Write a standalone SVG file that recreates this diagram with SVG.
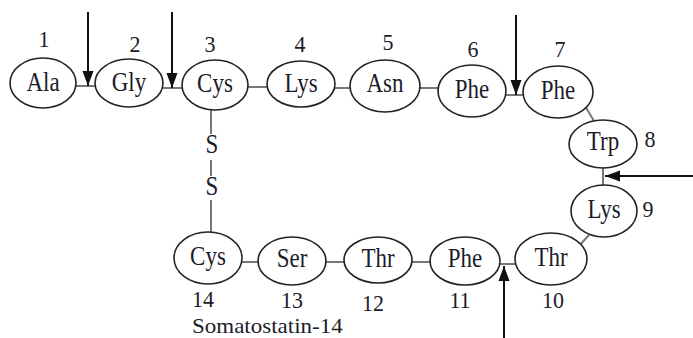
<svg xmlns="http://www.w3.org/2000/svg" width="693" height="338" viewBox="0 0 693 338">
<style>
.n ellipse{fill:#fff;stroke:#222;stroke-width:1.6}
text{font-family:'Liberation Serif','Times New Roman','DejaVu Serif',serif;font-size:23px;fill:#1c1c2a}
.m{text-anchor:middle}
.d{font-size:22px}
.t{font-size:21.5px}
.c line{stroke:#777;stroke-width:2}
.a line{stroke:#111;stroke-width:2}
</style>
<defs>
<marker id="ah" markerWidth="15" markerHeight="15" refX="15" refY="5.5" orient="auto" markerUnits="userSpaceOnUse" viewBox="0 0 15 11">
<path d="M0,0 L15,5.5 L0,11 Z" fill="#111"/>
</marker>
</defs>
<g class="c">
<line x1="76" y1="86" x2="96" y2="86"/>
<line x1="162" y1="88" x2="183" y2="88"/>
<line x1="247" y1="87" x2="268" y2="87"/>
<line x1="334" y1="88" x2="351" y2="88"/>
<line x1="419" y1="88" x2="438" y2="88"/>
<line x1="505" y1="95" x2="525" y2="95"/>
<line x1="585" y1="106" x2="594" y2="121"/>
<line x1="603" y1="167" x2="603" y2="186"/>
<line x1="589" y1="235" x2="578" y2="247"/>
<line x1="498" y1="264" x2="516" y2="264"/>
<line x1="411" y1="262" x2="431" y2="262"/>
<line x1="325" y1="262" x2="346" y2="262"/>
<line x1="241" y1="262" x2="259" y2="262"/>
<line x1="211" y1="110" x2="211" y2="134"/>
<line x1="211" y1="160" x2="211" y2="176"/>
<line x1="211" y1="200" x2="211" y2="233"/>
</g>
<g id="node1" class="n"><ellipse cx="43" cy="83" rx="33" ry="25"/><text class="m" transform="translate(43,91) scale(1,1.18)">Ala</text></g>
<g id="node2" class="n"><ellipse cx="129" cy="83" rx="34" ry="24"/><text class="m" transform="translate(129,91) scale(1,1.18)">Gly</text></g>
<g id="node3" class="n"><ellipse cx="215" cy="85" rx="33" ry="25"/><text class="m" transform="translate(215,92) scale(1,1.18)">Cys</text></g>
<g id="node4" class="n"><ellipse cx="301" cy="84" rx="34" ry="23"/><text class="m" transform="translate(301,92) scale(1,1.18)">Lys</text></g>
<g id="node5" class="n"><ellipse cx="385" cy="86" rx="35" ry="26"/><text class="m" transform="translate(385,92) scale(1,1.18)">Asn</text></g>
<g id="node6" class="n"><ellipse cx="472" cy="91" rx="34" ry="26"/><text class="m" transform="translate(472,98) scale(1,1.18)">Phe</text></g>
<g id="node7" class="n"><ellipse cx="558" cy="92" rx="35" ry="26"/><text class="m" transform="translate(558,99) scale(1,1.18)">Phe</text></g>
<g id="node8" class="n"><ellipse cx="603" cy="144" rx="34" ry="24"/><text class="m" transform="translate(603,150) scale(1,1.18)">Trp</text></g>
<g id="node9" class="n"><ellipse cx="604" cy="211" rx="33" ry="26"/><text class="m" transform="translate(604,218) scale(1,1.18)">Lys</text></g>
<g id="node10" class="n"><ellipse cx="551" cy="259" rx="36" ry="26"/><text class="m" transform="translate(551,266) scale(1,1.18)">Thr</text></g>
<g id="node11" class="n"><ellipse cx="465" cy="261" rx="35" ry="24"/><text class="m" transform="translate(465,267) scale(1,1.18)">Phe</text></g>
<g id="node12" class="n"><ellipse cx="378" cy="260" rx="34" ry="23"/><text class="m" transform="translate(378,267) scale(1,1.18)">Thr</text></g>
<g id="node13" class="n"><ellipse cx="292" cy="261" rx="34" ry="24"/><text class="m" transform="translate(292,267) scale(1,1.18)">Ser</text></g>
<g id="node14" class="n"><ellipse cx="208" cy="258" rx="34" ry="26"/><text class="m" transform="translate(208,265) scale(1,1.18)">Cys</text></g>
<g id="sbridge">
<text class="m" transform="translate(212,153) scale(1,1.18)">S</text>
<text class="m" transform="translate(212,195) scale(1,1.18)">S</text>
</g>
<g id="numbers">
<text class="m d" transform="translate(44,47) scale(1,1.05)">1</text>
<text class="m d" transform="translate(135,52) scale(1,1.05)">2</text>
<text class="m d" transform="translate(210,52) scale(1,1.05)">3</text>
<text class="m d" transform="translate(300,52) scale(1,1.05)">4</text>
<text class="m d" transform="translate(388,50) scale(1,1.05)">5</text>
<text class="m d" transform="translate(473,57) scale(1,1.05)">6</text>
<text class="m d" transform="translate(560,57) scale(1,1.05)">7</text>
<text class="m d" transform="translate(650,147) scale(1,1.05)">8</text>
<text class="m d" transform="translate(648,217) scale(1,1.05)">9</text>
<text class="m d" transform="translate(553,308) scale(1,1.05)">10</text>
<text class="m d" transform="translate(460,308) scale(1,1.05)">11</text>
<text class="m d" transform="translate(373,311) scale(1,1.05)">12</text>
<text class="m d" transform="translate(292,308) scale(1,1.05)">13</text>
<text class="m d" transform="translate(203,307) scale(1,1.05)">14</text>
<text class="t" transform="translate(192,333) scale(1.07,1)">Somatostatin-14</text>
</g>
<g class="a">
<line x1="88" y1="12" x2="88" y2="86" marker-end="url(#ah)"/>
<line x1="172" y1="12" x2="172" y2="88" marker-end="url(#ah)"/>
<line x1="516" y1="15" x2="516" y2="95" marker-end="url(#ah)"/>
<line x1="693" y1="176" x2="605" y2="176" marker-end="url(#ah)"/>
<line x1="504" y1="338" x2="504" y2="266" marker-end="url(#ah)"/>
</g>
</svg>
